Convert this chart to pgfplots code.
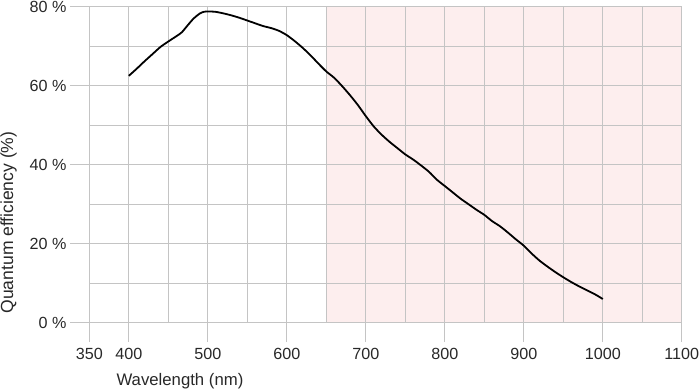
\documentclass[border=0pt]{standalone}
\usepackage{pgfplots}
\pgfplotsset{compat=1.18}
\usepackage{fontspec}
\setmainfont{Liberation Sans}
\definecolor{gridgray}{RGB}{196,196,196}
\definecolor{pinkbg}{RGB}{253,238,238}
\definecolor{txt}{RGB}{40,40,40}
\begin{document}
\begin{tikzpicture}
\begin{axis}[
  set layers=standard,
  scale only axis,
  width=592.5bp, height=316bp,
  at={(0,0)}, anchor=south west,
  xmin=350, xmax=1100, ymin=0, ymax=80,
  xtick={350,400,500,600,700,800,900,1000,1100},
  minor xtick={450,550,650,750,850,950,1050},
  ytick={0,20,40,60,80},
  minor ytick={10,30,50,70},
  grid=both,
  major grid style={gridgray, line width=0.8bp},
  minor grid style={gridgray, line width=0.8bp},
  axis line style={gridgray, line width=0.8bp},
  major tick style={gridgray, line width=0.8bp},
  minor tick length=0pt,
  major tick length=19.3bp,
  tick align=outside,
  xtick pos=bottom, ytick pos=left,
  /pgf/number format/1000 sep={},
  /pgf/number format/assume math mode=true,
  yticklabel={\pgfmathprintnumber{\tick} \%},
  tick label style={font=\fontsize{16.2}{19}\selectfont, text=txt},
  xticklabel style={yshift=-3bp},
  xlabel={Wavelength (nm)},
  ylabel={Quantum efficiency (\%)},
  xlabel style={font=\fontsize{16.8}{19}\selectfont, text=txt, at={(axis description cs:0.153,-0.1845)}, anchor=center},
  ylabel style={font=\fontsize{17.6}{19}\selectfont, text=txt, at={(axis description cs:-0.1364,0.317)}, anchor=center},
]
\addplot[fill=pinkbg, draw=none, on layer=axis background] coordinates {(650,0) (650,80) (1100,80) (1100,0)} -- cycle;
\addplot[black, line width=1.8bp, smooth, tension=0.4] coordinates {
(400,62.5) (410,64.3) (420,66.2) (430,68.0) (440,69.8) (450,71.2) (460,72.5) (467,73.5)
(475,75.4) (482,77.0) (490,78.3) (495,78.7) (500,78.8) (510,78.7) (520,78.3) (530,77.8)
(540,77.2) (550,76.5) (560,75.8) (570,75.1) (580,74.6) (590,73.9) (600,72.8) (610,71.3)
(620,69.6) (630,67.7) (640,65.6) (650,63.6) (660,62.0) (670,59.9) (680,57.6) (690,55.1)
(700,52.3) (710,49.7) (720,47.6) (730,45.8) (740,44.2) (750,42.6) (760,41.3) (770,39.8)
(780,38.2) (790,36.2) (800,34.6) (810,33.0) (820,31.4) (830,30.0) (840,28.6) (850,27.3)
(860,25.7) (870,24.4) (880,22.8) (890,21.1) (900,19.5) (910,17.5) (920,15.7) (930,14.2)
(940,12.8) (950,11.5) (960,10.3) (970,9.2) (980,8.2) (990,7.2) (1000,6.0)
};
\end{axis}
\pgfresetboundingbox
\useasboundingbox (-89.3bp,-69.3bp) rectangle (610.7bp,322.7bp);
\end{tikzpicture}
\end{document}
